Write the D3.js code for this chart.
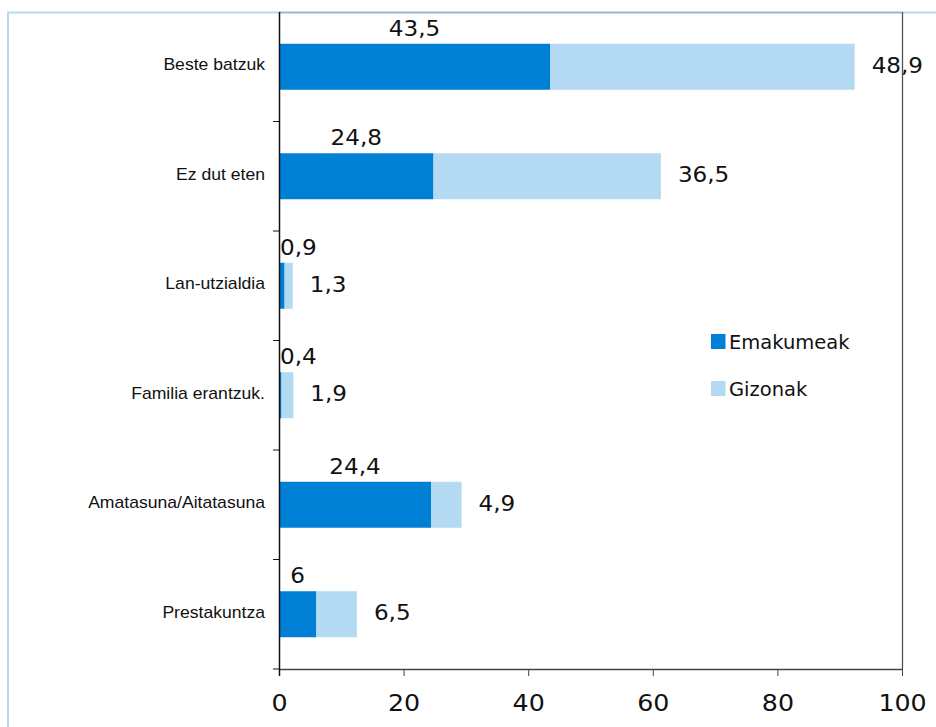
<!DOCTYPE html>
<html>
<head>
<meta charset="utf-8">
<script src="https://cdn.jsdelivr.net/npm/d3@7"></script>
<style>
  html, body { margin: 0; padding: 0; background: #fff; }
  svg { display: block; }
</style>
</head>
<body>
<svg id="chart" width="936" height="727"></svg>
<script>
const categories = ["Beste batzuk", "Ez dut eten", "Lan-utzialdia", "Familia erantzuk.", "Amatasuna/Aitatasuna", "Prestakuntza"];
const emakumeak = [43.5, 24.8, 0.9, 0.4, 24.4, 6];
const gizonak = [48.9, 36.5, 1.3, 1.9, 4.9, 6.5];
const seriesNames = ["Emakumeak", "Gizonak"];
const xTicks = [0, 20, 40, 60, 80, 100];

(function () {
const colors = ["#0080d5", "#b3daf2"];
const SX = 1.1; // horizontal text stretch seen in the reference

const svg = d3.select("#chart");
const pLeft = 279, pRight = 902, pTop = 12, pBottom = 669;

const x = d3.scaleLinear().domain([0, 100]).range([pLeft, pRight]);
const y = d3.scaleBand().domain(categories).range([pTop, pBottom]).paddingInner(0.58).paddingOuter(0.29);

// outer frame
svg.append("rect").attr("x", 8).attr("y", 12.5).attr("width", 940).attr("height", 740)
  .attr("fill", "none").attr("stroke", "#b5dbf3").attr("stroke-width", 2);

// plot area top/right
svg.append("line").attr("x1", pLeft).attr("x2", pRight).attr("y1", pTop + 0.5).attr("y2", pTop + 0.5)
  .attr("stroke", "#9fb3c2").attr("stroke-width", 1.5);
svg.append("line").attr("x1", pRight + 0.5).attr("x2", pRight + 0.5).attr("y1", pTop).attr("y2", pBottom)
  .attr("stroke", "#555").attr("stroke-width", 1.3);

const fmt = v => String(v).replace(".", ",");

const data = categories.map((c, i) => ({ c, e: emakumeak[i], g: gizonak[i] }));

// bars
const bars = svg.append("g");
bars.selectAll("rect.e").data(data).join("rect").attr("class", "e")
  .attr("x", x(0)).attr("y", d => y(d.c)).attr("height", y.bandwidth())
  .attr("width", d => x(d.e) - x(0)).attr("fill", colors[0]);
bars.selectAll("rect.g").data(data).join("rect").attr("class", "g")
  .attr("x", d => x(d.e)).attr("y", d => y(d.c)).attr("height", y.bandwidth())
  .attr("width", d => x(d.e + d.g) - x(d.e)).attr("fill", colors[1]);

// x axis
const xAxis = svg.append("g").attr("transform", `translate(0,${pBottom})`)
  .call(d3.axisBottom(x).tickValues(xTicks).tickSize(7).tickPadding(19).tickSizeOuter(0));
xAxis.select(".domain").attr("stroke", "#444").attr("stroke-width", 1.3);
xAxis.selectAll(".tick line").attr("stroke", "#444");
xAxis.selectAll(".tick text").attr("font-family", "DejaVu Sans").attr("font-size", 23)
  .attr("fill", "#111").attr("transform", `scale(${SX},1)`);

// y axis line
svg.append("line").attr("x1", pLeft + 0.5).attr("x2", pLeft + 0.5).attr("y1", pTop).attr("y2", pBottom + 7)
  .attr("stroke", "#111").attr("stroke-width", 1.5);
// y ticks at band boundaries
const gap = (y.step() - y.bandwidth()) / 2;
const bounds = categories.map(c => y(c) - gap).concat([y(categories[categories.length - 1]) + y.bandwidth() + gap]);
svg.selectAll("line.ytick").data(bounds.slice(1)).join("line").attr("class", "ytick")
  .attr("x1", pLeft - 6).attr("x2", pLeft).attr("y1", d => d).attr("y2", d => d)
  .attr("stroke", "#111").attr("stroke-width", 1);

// category labels
svg.selectAll("text.cat").data(data).join("text").attr("class", "cat")
  .attr("transform", d => `translate(265,${y(d.c) + y.bandwidth() / 2 - 1.5}) scale(${SX},1)`)
  .attr("text-anchor", "end").attr("dominant-baseline", "central")
  .attr("font-family", "Liberation Sans, Arial, sans-serif").attr("font-size", 16).attr("fill", "#111")
  .text(d => d.c);

// Emakumeak value labels (above dark segment)
svg.selectAll("text.ve").data(data).join("text").attr("class", "ve")
  .attr("text-anchor", "middle").attr("dominant-baseline", "central")
  .attr("font-family", "DejaVu Sans").attr("font-size", 21).attr("fill", "#111")
  .text(d => fmt(d.e))
  .each(function (d) {
    const w = this.getComputedTextLength() * SX;
    const cx = Math.max((x(0) + x(d.e)) / 2, x(0) + w / 2 + 1);
    d3.select(this).attr("transform", `translate(${cx},${y(d.c) - 15}) scale(${SX},1)`);
  });

// Gizonak value labels (right of bar)
svg.selectAll("text.vg").data(data).join("text").attr("class", "vg")
  .attr("transform", d => `translate(${x(d.e + d.g) + 17},${y(d.c) + y.bandwidth() / 2 - 1}) scale(${SX},1)`)
  .attr("text-anchor", "start").attr("dominant-baseline", "central")
  .attr("font-family", "DejaVu Sans").attr("font-size", 21).attr("fill", "#111")
  .text(d => fmt(d.g));

// legend
const legend = svg.append("g").attr("transform", "translate(711,334)");
const li = legend.selectAll("g").data(seriesNames).join("g")
  .attr("transform", (d, i) => `translate(0,${i * 47})`);
li.append("rect").attr("width", 14.5).attr("height", 15).attr("fill", (d, i) => colors[i]);
li.append("text").attr("x", 18).attr("y", 8.5).attr("dominant-baseline", "central")
  .attr("font-family", "DejaVu Sans").attr("font-size", 19.5).attr("fill", "#111")
  .text(d => d);
})();
</script>
</body>
</html>
